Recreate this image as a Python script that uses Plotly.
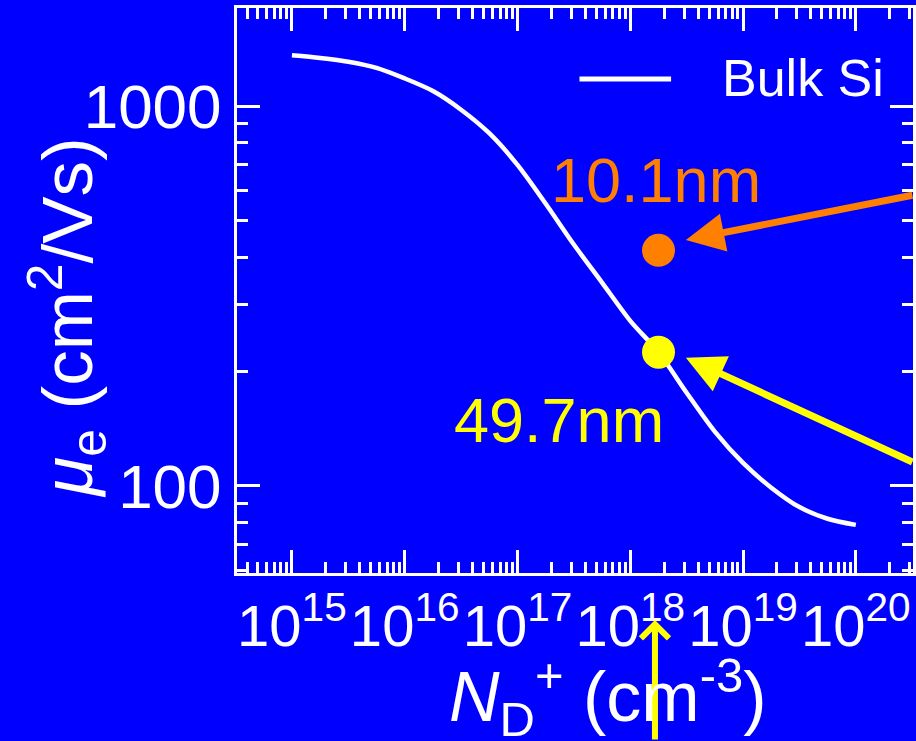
import plotly.graph_objects as go

# ---- data ----
bulk_name = "Bulk Si"
bulk_N = [1e15, 1.78e15, 3.16e15, 5.62e15, 1e16, 1.78e16, 3.16e16, 5.62e16,
          1e17, 1.78e17, 3.16e17, 5.62e17, 1e18, 1.78e18, 3.16e18, 5.62e18,
          1e19, 1.78e19, 3.16e19, 5.62e19, 1e20]
bulk_mu = [1360, 1338, 1308, 1260, 1182, 1095, 978, 848,
           700, 553, 432, 343, 272, 225, 176, 139,
           115, 99, 88, 82, 79]

film_labels = ["10.1nm", "49.7nm"]
film_N = [1.78e18, 1.78e18]
film_mu = [417, 225]
film_colors = ["#FF7F00", "#FFFF00"]

x_tick_vals = [1e15, 1e16, 1e17, 1e18, 1e19, 1e20]
x_tick_text = ["10<sup>15</sup>", "10<sup>16</sup>", "10<sup>17</sup>",
               "10<sup>18</sup>", "10<sup>19</sup>", "10<sup>20</sup>"]
y_tick_vals = [100, 1000]
y_tick_text = ["100", "1000"]

x_title = "<i>N</i><sub>D</sub><sup>+</sup> (cm<sup>-3</sup>)"
y_title = "<i>μ</i><sub>e</sub> (cm<sup>2</sup>/Vs)"

BG = "#0000FF"
WHITE = "#FFFFFF"
FONT = "Arial, Liberation Sans, sans-serif"

fig = go.Figure()
fig.add_trace(go.Scatter(x=bulk_N, y=bulk_mu, mode="lines", name=bulk_name,
                         line=dict(color=WHITE, width=4.5, shape="spline", smoothing=0.8),
                         showlegend=False))
for lab, n, m, c in zip(film_labels, film_N, film_mu, film_colors):
    fig.add_trace(go.Scatter(x=[n], y=[m], mode="markers", name=lab,
                             marker=dict(color=c, size=33, line=dict(width=0)),
                             showlegend=False))

axis_common = dict(type="log", showline=True, linecolor=WHITE, linewidth=3,
                   mirror="allticks", ticks="inside", ticklen=23, tickwidth=3,
                   tickcolor=WHITE, showgrid=False, zeroline=False, tickangle=0,
                   minor=dict(ticks="inside", ticklen=11, tickwidth=3,
                              tickcolor=WHITE, dtick="D1", showgrid=False))

fig.update_xaxes(**axis_common, range=[14.513, 20.507], tickmode="array",
                 tickvals=x_tick_vals, ticktext=x_tick_text,
                 tickfont=dict(family=FONT, size=58, color=WHITE))
fig.update_yaxes(**axis_common, range=[1.771, 3.258], tickmode="array",
                 tickvals=y_tick_vals, ticktext=y_tick_text,
                 tickfont=dict(family=FONT, size=62, color=WHITE))

W, H = 916, 741
L, R, T, B = 237, 0, 8, 168

def px(xp):
    return (xp - L) / (W - L - R)

def py(yp):
    return (H - B - yp) / (H - T - B)

annotations = [
    # labels of points
    dict(text=film_labels[0], x=px(658), y=py(180), xref="paper", yref="paper",
         showarrow=False, font=dict(family=FONT, size=63, color=film_colors[0]),
         xanchor="center", yanchor="middle"),
    dict(text=film_labels[1], x=px(560), y=py(420), xref="paper", yref="paper",
         showarrow=False, font=dict(family=FONT, size=63, color=film_colors[1]),
         xanchor="center", yanchor="middle"),
    # arrows
    dict(x=18.493, y=2.6474, xref="x", yref="y", text="", showarrow=True,
         arrowhead=2, arrowsize=1.1, arrowwidth=7, arrowcolor=film_colors[0],
         ax=228, ay=-45, axref="pixel", ayref="pixel", standoff=0),
    dict(x=18.493, y=2.3376, xref="x", yref="y", text="", showarrow=True,
         arrowhead=2, arrowsize=1.1, arrowwidth=7, arrowcolor=film_colors[1],
         ax=228, ay=105, axref="pixel", ayref="pixel", standoff=0),
    dict(x=18.219, y=py(620), xref="x", yref="paper", text="", showarrow=True,
         arrowhead=4, arrowsize=0.9, arrowwidth=6, arrowcolor=film_colors[1],
         ax=0, ay=125, axref="pixel", ayref="pixel", standoff=0),
    # legend
    dict(text=bulk_name, x=px(722), y=py(78), xref="paper", yref="paper",
         showarrow=False, font=dict(family=FONT, size=52, color=WHITE),
         xanchor="left", yanchor="middle"),
    # axis titles
    dict(text=y_title, x=px(66), y=py(318), xref="paper", yref="paper",
         showarrow=False, textangle=-90, font=dict(family=FONT, size=71, color=WHITE),
         xanchor="center", yanchor="middle"),
    dict(text=x_title, x=px(610), y=py(697), xref="paper", yref="paper",
         showarrow=False, font=dict(family=FONT, size=70, color=WHITE),
         xanchor="center", yanchor="middle"),
]

shapes = [
    dict(type="line", xref="paper", yref="paper", x0=px(581), x1=px(673),
         y0=py(79), y1=py(79), line=dict(color=WHITE, width=5)),
]

fig.update_layout(width=W, height=H, margin=dict(l=L, r=R, t=T, b=B, pad=0),
                  paper_bgcolor=BG, plot_bgcolor=BG, showlegend=False,
                  annotations=annotations, shapes=shapes,
                  font=dict(family=FONT, color=WHITE))

fig.write_html("out.html")
